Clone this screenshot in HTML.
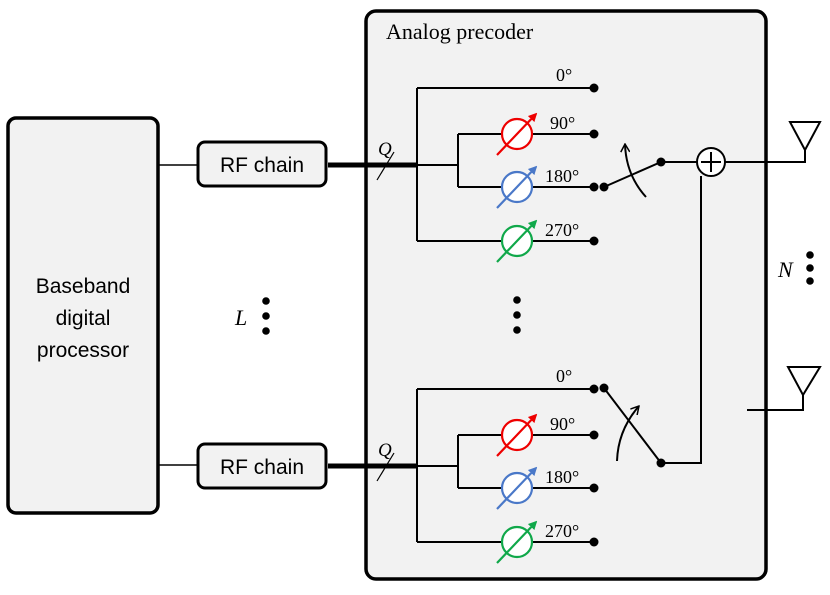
<!DOCTYPE html><html><head><style>body{margin:0;background:#fff}</style></head><body>
<svg width="830" height="590" viewBox="0 0 830 590" xmlns="http://www.w3.org/2000/svg" font-family="Liberation Serif, serif">
<defs>
<marker id="ar" viewBox="0 0 10 10" refX="8" refY="5" markerWidth="4" markerHeight="4" orient="auto"><path d="M0,0L10,5L0,10z" fill="context-stroke"/></marker>
<marker id="op" viewBox="0 0 10 10" refX="9" refY="5" markerWidth="5" markerHeight="5" orient="auto"><path d="M1,0.5L9,5L1,9.5" fill="none" stroke="#000" stroke-width="1.5"/></marker>
<g id="grp">
<path d="M328,165H417M417,88V241M417,165H458M458,134V187M458,134H594M458,187H594M417,241H594M417,88H594" stroke="#000" stroke-width="2" fill="none"/>
<path d="M328,165H417" stroke="#000" stroke-width="5"/>
<line x1="377" y1="180" x2="394" y2="152" stroke="#000" stroke-width="1.2"/>
<text x="378" y="155" font-size="19" font-style="italic">Q</text>
<circle cx="517" cy="134" r="15" fill="#fff" stroke="#e00" stroke-width="2.2"/>
<line x1="497" y1="155" x2="536" y2="114" stroke="#e00" stroke-width="2.2" marker-end="url(#ar)"/>
<circle cx="517" cy="187" r="15" fill="#fff" stroke="#4a78c8" stroke-width="2.2"/>
<line x1="497" y1="208" x2="536" y2="167" stroke="#4a78c8" stroke-width="2.2" marker-end="url(#ar)"/>
<circle cx="517" cy="241" r="15" fill="#fff" stroke="#10a84a" stroke-width="2.2"/>
<line x1="497" y1="262" x2="536" y2="221" stroke="#10a84a" stroke-width="2.2" marker-end="url(#ar)"/>
<g fill="#000"><circle cx="594" cy="88" r="4.5"/><circle cx="594" cy="134" r="4.5"/><circle cx="594" cy="187" r="4.5"/><circle cx="594" cy="241" r="4.5"/></g>
<g font-size="18"><text x="556" y="81">0°</text><text x="550" y="129">90°</text><text x="545" y="182">180°</text><text x="545" y="236">270°</text></g>
</g>
</defs>
<rect x="366" y="11" width="400" height="568" rx="10" fill="#f2f2f2" stroke="#000" stroke-width="3.5"/>
<text x="386" y="39" font-size="22">Analog precoder</text>
<rect x="8" y="118" width="150" height="395" rx="8" fill="#f2f2f2" stroke="#000" stroke-width="3.5"/>
<g font-family="Liberation Sans, sans-serif" font-size="21" text-anchor="middle">
<text x="83" y="293">Baseband</text>
<text x="83" y="325">digital</text>
<text x="83" y="357">processor</text>
</g>
<path d="M158,165H198M158,465H198" stroke="#000" stroke-width="1.5"/>
<rect x="198" y="142" width="128" height="44" rx="7" fill="#f2f2f2" stroke="#000" stroke-width="3"/>
<text x="262" y="172" font-size="21" text-anchor="middle" font-family="Liberation Sans, sans-serif">RF chain</text>
<rect x="198" y="444" width="128" height="44" rx="7" fill="#f2f2f2" stroke="#000" stroke-width="3"/>
<text x="262" y="474" font-size="21" text-anchor="middle" font-family="Liberation Sans, sans-serif">RF chain</text>
<use href="#grp"/>
<use href="#grp" transform="translate(0,301)"/>
<g fill="#000">
<circle cx="604" cy="187" r="4.5"/><circle cx="661" cy="162" r="4.5"/>
<circle cx="604" cy="388" r="4.5"/><circle cx="661" cy="463" r="4.5"/>
<circle cx="266" cy="301" r="3.8"/><circle cx="266" cy="316" r="3.8"/><circle cx="266" cy="331" r="3.8"/>
<circle cx="517" cy="300" r="3.8"/><circle cx="517" cy="315" r="3.8"/><circle cx="517" cy="330" r="3.8"/>
<circle cx="810" cy="255" r="3.8"/><circle cx="810" cy="268" r="3.8"/><circle cx="810" cy="281" r="3.8"/>
</g>
<text x="235" y="325" font-size="22" font-style="italic">L</text>
<text x="778" y="277" font-size="22" font-style="italic">N</text>
<path d="M604,187L661,162H697M725,162H805V150M701,176V463H661M661,463L604,388M747,410H803V395" stroke="#000" stroke-width="2" fill="none"/>
<circle cx="711" cy="162" r="14" fill="#fff" stroke="#000" stroke-width="2"/>
<path d="M711,152V172M701,162H721" stroke="#000" stroke-width="2"/>
<path d="M646,197Q626,175 625,144" stroke="#000" stroke-width="2" fill="none" marker-end="url(#op)"/>
<path d="M617,461Q618,430 639,406" stroke="#000" stroke-width="2" fill="none" marker-end="url(#op)"/>
<path d="M790,122H820L805,150Z" fill="none" stroke="#000" stroke-width="2"/>
<path d="M788,367H820L803,395Z" fill="none" stroke="#000" stroke-width="2"/>
</svg>
</body></html>
